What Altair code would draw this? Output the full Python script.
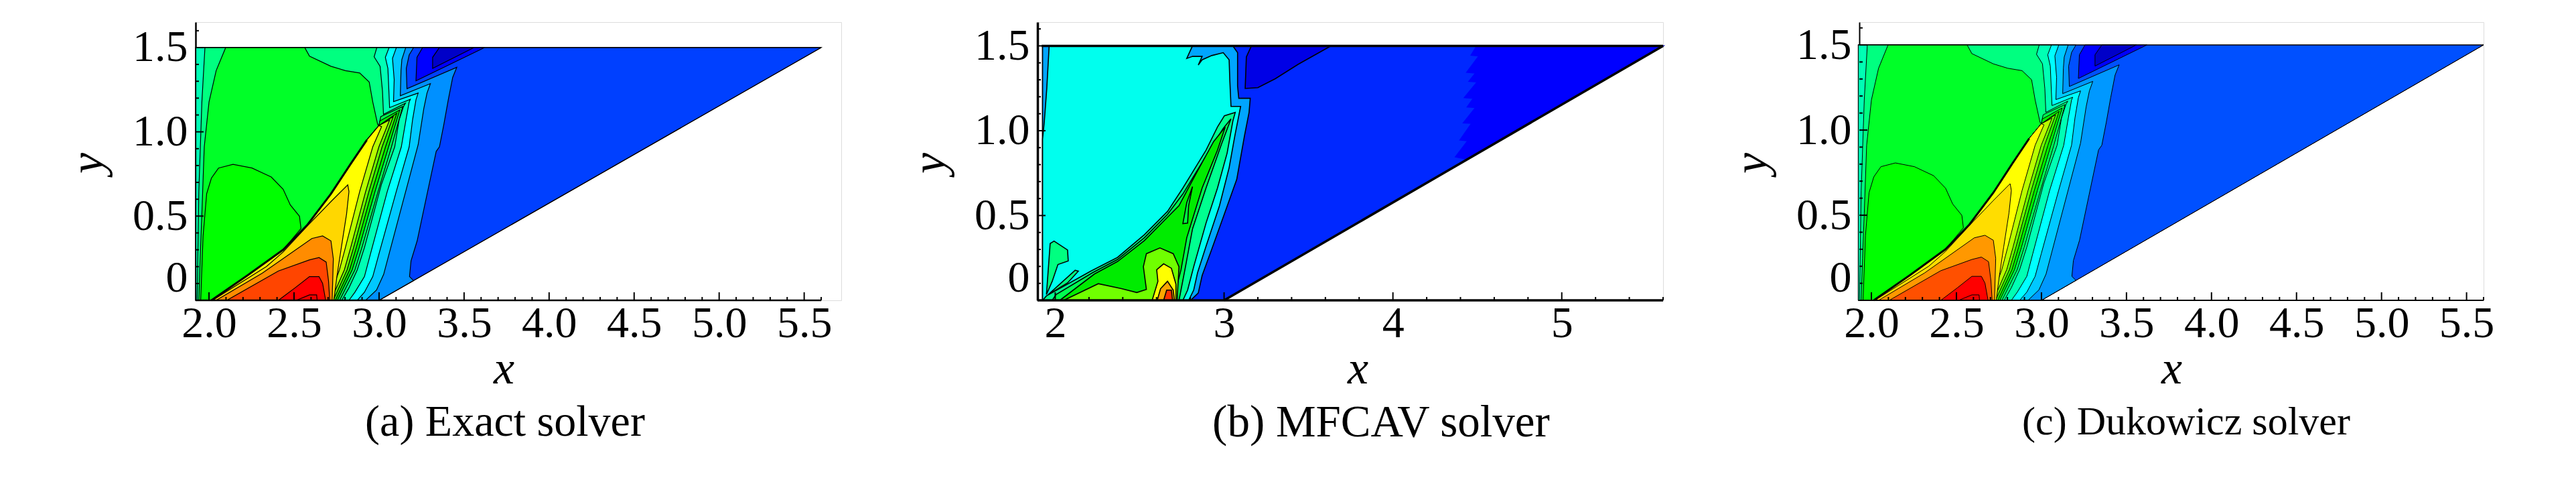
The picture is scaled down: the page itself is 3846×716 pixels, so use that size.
import altair as alt
import pandas as pd

FONT = "Liberation Serif"
L = 1.923
SHOCK_X = [2.999, 2.928, 2.830, 2.717, 2.577, 2.436, 2.225, 2.014]
SHOCK_Y = [1.037, 0.951, 0.805, 0.632, 0.446, 0.300, 0.147, 0.0]

# ---- panels (a) and (c): contour regions, outermost first
BASE_X = [L, 3.0, 5.6, L]
BASE_Y = [0, 0, 1.5, 1.5]
K1_X = [L, 3.0, 3.203, 3.179, 3.188, 3.224, 3.280, 3.336, 3.355, 3.381, 3.407, 3.433, 3.457, 3.164, 3.160, 3.177, 3.203, L]
K1_Y = [0, 0, 0.117, 0.141, 0.234, 0.353, 0.619, 0.884, 0.911, 1.044, 1.190, 1.323, 1.383, 1.256, 1.376, 1.456, 1.5, 1.5]
K2_X = [L, 2.921, 2.985, 3.027, 3.062, 3.139, 3.230, 3.263, 3.282, 3.302, 3.125, 3.129, 3.134, 3.157, L]
K2_Y = [0, 0, 0.061, 0.154, 0.287, 0.579, 0.924, 1.137, 1.230, 1.286, 1.214, 1.363, 1.429, 1.5, 1.5]
K3_X = [L, 2.872, 2.914, 2.963, 2.999, 3.101, 3.177, 3.197, 3.217, 3.230, 3.085, 3.089, 3.079, 3.102, L]
K3_Y = [0, 0, 0.048, 0.141, 0.274, 0.645, 0.911, 1.071, 1.190, 1.230, 1.179, 1.310, 1.436, 1.5, 1.5]
K4_X = [L, 2.823, 2.858, 2.914, 2.949, 3.048, 3.131, 3.158, 3.177, 3.184, 3.062, 3.052, 3.037, 3.059, L]
K4_Y = [0, 0, 0.048, 0.141, 0.274, 0.645, 0.911, 1.071, 1.177, 1.193, 1.144, 1.376, 1.442, 1.5, 1.5]
K5_X = [L, 2.781, 2.823, 2.872, 2.914, 3.013, 3.092, 3.118, 3.144, 3.155, 3.026, 3.020, 3.006, 2.971, 2.987, L]
K5_Y = [0, 0, 0.074, 0.181, 0.313, 0.685, 0.911, 1.071, 1.150, 1.170, 1.104, 1.243, 1.389, 1.445, 1.5, 1.5]
K6_X = [L, 1.930, 1.940, 1.958, 1.976, L]
K6_Y = [0, 0, 0.645, 1.177, 1.5, 1.5]
LIME_X = [2.098, 2.563, 2.591, 2.717, 2.802, 2.886, 2.942, 2.963, 2.992] + SHOCK_X + [1.940, 1.948, 1.958, 1.972, 2.0, 2.042]
LIME_Y = [1.5, 1.5, 1.449, 1.389, 1.363, 1.349, 1.296, 1.177, 1.044] + SHOCK_Y + [0, 0.247, 0.513, 0.911, 1.177, 1.363]
LOBE_X = [2.541, 2.532, 2.478, 2.436, 2.366, 2.253, 2.141, 2.056, 2.014, 1.986, 1.965, 1.951, 2.014, 2.225, 2.436]
LOBE_Y = [0.426, 0.499, 0.566, 0.659, 0.732, 0.785, 0.807, 0.785, 0.725, 0.632, 0.380, 0, 0, 0.147, 0.300]
L1_X = [2.768, 2.858, 2.899, 2.994, 3.073, 3.139, 3.010] + SHOCK_X
L1_Y = [0, 0.181, 0.313, 0.645, 0.911, 1.150, 1.090] + SHOCK_Y
L2_X = [2.755, 2.842, 2.883, 2.976, 3.056, 3.122, 3.005] + SHOCK_X
L2_Y = [0, 0.181, 0.313, 0.645, 0.911, 1.130, 1.065] + SHOCK_Y
L3_X = [2.743, 2.827, 2.866, 2.958, 3.038, 3.104] + SHOCK_X
L3_Y = [0, 0.181, 0.313, 0.645, 0.911, 1.110] + SHOCK_Y
L4_X = [2.730, 2.812, 2.850, 2.940, 3.018, 3.083] + SHOCK_X
L4_Y = [0, 0.181, 0.313, 0.645, 0.911, 1.090] + SHOCK_Y
L5_X = [2.717, 2.796, 2.833, 2.921, 2.999, 3.062] + SHOCK_X
L5_Y = [0, 0.181, 0.313, 0.645, 0.911, 1.070] + SHOCK_Y
YEL_X = [2.703, 2.767, 2.802, 2.886, 2.963, 3.015] + SHOCK_X
YEL_Y = [0, 0.181, 0.313, 0.645, 0.911, 1.031] + SHOCK_Y
GOLD_X = [2.734, 2.752, 2.778, 2.809, 2.823, 2.816, 2.717, 2.577, 2.436, 2.338, 2.021]
GOLD_Y = [0, 0.141, 0.313, 0.513, 0.645, 0.685, 0.586, 0.440, 0.287, 0.201, 0]
ORG_X = [2.724, 2.731, 2.717, 2.668, 2.605, 2.313, 2.042]
ORG_Y = [0, 0.247, 0.353, 0.382, 0.367, 0.161, 0]
ORD_X = [2.710, 2.703, 2.689, 2.647, 2.591, 2.408, 2.105]
ORD_Y = [0, 0.114, 0.227, 0.254, 0.240, 0.174, 0]
RED_X = [2.686, 2.668, 2.647, 2.591, 2.506, 2.408]
RED_Y = [0, 0.101, 0.141, 0.141, 0.074, 0]
DRD_X = [2.636, 2.633, 2.591, 2.513]
DRD_Y = [0, 0.032, 0.032, 0]
DK1_X = [3.256, 3.223, 3.217, 3.620]
DK1_Y = [1.5, 1.442, 1.303, 1.5]
DK2_X = [3.355, 3.315, 3.315, 3.558]
DK2_Y = [1.5, 1.442, 1.376, 1.5]

def exact_regions(base, lightblue, gold, orange, ored):
    return [
        (base, BASE_X, BASE_Y), (lightblue, K1_X, K1_Y), ("#00c8ff", K2_X, K2_Y),
        ("#00ffff", K3_X, K3_Y), ("#00ffb4", K4_X, K4_Y), ("#00ff80", K5_X, K5_Y),
        ("#00ffb4", K6_X, K6_Y), ("#00ff28", LIME_X, LIME_Y), ("#00ff00", LOBE_X, LOBE_Y),
        ("#00ff50", L1_X, L1_Y), ("#00f000", L2_X, L2_Y), ("#30f000", L3_X, L3_Y),
        ("#70ff00", L4_X, L4_Y), ("#b8ff00", L5_X, L5_Y), ("#ffff00", YEL_X, YEL_Y),
        (gold, GOLD_X, GOLD_Y), (orange, ORG_X, ORG_Y), (ored, ORD_X, ORD_Y),
        ("#ff0000", RED_X, RED_Y), ("#f00000", DRD_X, DRD_Y),
        ("#0000ff", DK1_X, DK1_Y), ("#0000c8", DK2_X, DK2_Y),
    ]

# ---- panel (b)
BL = 1.925
B0_X = [BL, 3.0, 5.6, BL]
B0_Y = [0, 0, 1.5, 1.5]
BJAG_X = [4.496, 4.463, 4.509, 4.437, 4.489, 4.450, 4.499, 4.423, 4.476, 4.440, 4.489, 4.417, 4.466, 4.397, 4.443, 4.370, 4.440, 5.6]
BJAG_Y = [1.5, 1.445, 1.441, 1.344, 1.340, 1.291, 1.287, 1.195, 1.191, 1.140, 1.136, 1.046, 1.043, 0.945, 0.941, 0.846, 0.831, 1.5]
BDK_X = [3.162, 3.132, 3.125, 3.200, 3.303, 3.440, 3.633]
BDK_Y = [1.5, 1.435, 1.249, 1.254, 1.306, 1.392, 1.5]
BK1_X = [BL, 2.802, 2.847, 2.870, 2.927, 3.007, 3.075, 3.121, 3.148, 3.155, 3.087, 3.080, 3.080, 3.052, BL]
BK1_Y = [0, 0, 0.043, 0.146, 0.301, 0.524, 0.713, 0.971, 1.108, 1.191, 1.191, 1.263, 1.460, 1.5, 1.5]
BCY_X = [BL, 2.790, 2.820, 2.843, 2.893, 2.973, 3.030, 3.064, 3.098, 3.041, 3.034, 3.030, 2.995, 2.927, 2.870, 2.847, 2.870, 2.813, 2.779, 2.813, 1.964, 1.950, 1.935, BL]
BCY_Y = [0, 0, 0.060, 0.163, 0.318, 0.558, 0.782, 0.971, 1.143, 1.143, 1.297, 1.418, 1.460, 1.443, 1.418, 1.387, 1.438, 1.438, 1.426, 1.5, 1.5, 1.25, 1.05, 0.95]
BS1_X = [2.756, 2.784, 2.820, 2.893, 2.961, 3.018, 3.052, 3.066, 3.002, 2.961, 2.893, 2.756, 2.665, 2.528, 2.369, 2.210, 1.948, BL]
BS1_Y = [0, 0.060, 0.198, 0.455, 0.662, 0.868, 1.057, 1.108, 1.088, 1.022, 0.885, 0.662, 0.524, 0.387, 0.253, 0.172, 0.026, 0]
BS2_X = [2.733, 2.768, 2.813, 2.893, 2.984, 3.041, 2.995, 2.893, 2.756, 2.665, 2.528, 2.369, 2.221, 2.005, 1.982]
BS2_Y = [0, 0.180, 0.421, 0.662, 0.919, 1.070, 1.014, 0.851, 0.627, 0.507, 0.369, 0.241, 0.163, 0.034, 0]
BS3_X = [2.699, 2.745, 2.779, 2.870, 2.961, 3.007, 2.938, 2.825, 2.733, 2.665, 2.528, 2.369, 2.232, 2.027]
BS3_Y = [0, 0.180, 0.369, 0.662, 0.885, 1.022, 0.936, 0.730, 0.558, 0.490, 0.352, 0.229, 0.155, 0]
BSL_X = [2.813, 2.790, 2.784, 2.756, 2.779]
BSL_Y = [0.670, 0.558, 0.455, 0.452, 0.576]
BCH_X = [2.050, 2.255, 2.392, 2.483, 2.540, 2.522, 2.540, 2.620, 2.699, 2.733, 2.722]
BCH_Y = [0, 0.098, 0.069, 0.046, 0.064, 0.198, 0.275, 0.309, 0.275, 0.198, 0]
BYE_X = [2.574, 2.608, 2.601, 2.642, 2.688, 2.715, 2.715]
BYE_Y = [0, 0.112, 0.180, 0.215, 0.189, 0.095, 0]
BOR_X = [2.604, 2.624, 2.665, 2.699, 2.706]
BOR_Y = [0, 0.069, 0.112, 0.060, 0]
BRD_X = [2.642, 2.660, 2.688, 2.695]
BRD_Y = [0, 0.060, 0.060, 0]
BLB1_X = [1.948, 1.970, 1.993, 2.073, 2.077, 2.016, 1.982]
BLB1_Y = [0.034, 0.335, 0.349, 0.297, 0.232, 0.211, 0.112]
BLB2_X = [1.959, 2.118, 2.137, 2.073]
BLB2_Y = [0.034, 0.177, 0.172, 0.103]

REGIONS_B = [
    ("#0028ff", B0_X, B0_Y), ("#0000ff", BJAG_X, BJAG_Y, "none"), ("#0000e6", BDK_X, BDK_Y),
    ("#00a5ff", BK1_X, BK1_Y), ("#00ffee", BCY_X, BCY_Y), ("#00ff90", BS1_X, BS1_Y),
    ("#00ff50", BS2_X, BS2_Y), ("#00ec00", BS3_X, BS3_Y), ("#00ff40", BSL_X, BSL_Y),
    ("#70ff00", BCH_X, BCH_Y), ("#ffff00", BYE_X, BYE_Y), ("#ffa500", BOR_X, BOR_Y),
    ("#ff3000", BRD_X, BRD_Y), ("#00ff80", BLB1_X, BLB1_Y), ("#00ff80", BLB2_X, BLB2_Y),
]

TOP_X = [1.92, 5.6]
TOP_Y = [1.5, 1.5]
WEDGE_X = [3.0, 5.6]
WEDGE_Y = [0, 1.5]

X_TICKS_FINE = [2.0, 2.5, 3.0, 3.5, 4.0, 4.5, 5.0, 5.5]
X_MINOR_FINE = [2.1, 2.2, 2.3, 2.4, 2.6, 2.7, 2.8, 2.9, 3.1, 3.2, 3.3, 3.4, 3.6, 3.7, 3.8, 3.9,
                4.1, 4.2, 4.3, 4.4, 4.6, 4.7, 4.8, 4.9, 5.1, 5.2, 5.3, 5.4, 5.6]
X_TICKS_B = [2, 3, 4, 5]
X_MINOR_B = [2.2, 2.4, 2.6, 2.8, 3.2, 3.4, 3.6, 3.8, 4.2, 4.4, 4.6, 4.8, 5.2, 5.4, 5.6]
Y_TICKS = [0, 0.5, 1.0, 1.5]
Y_MINOR = [0.1, 0.2, 0.3, 0.4, 0.6, 0.7, 0.8, 0.9, 1.1, 1.2, 1.3, 1.4, 1.6]

H = 415
TICK_FONT = 66


def panel(regions, xdom, ydom, xt, xm, xfmt, caption, cap_size, cap_off, cap_dx, xtitle_x, line_w, outline_w, axis_w, width, shock=True):
    rows = []
    for pid, reg in enumerate(regions):
        col, xs, ys = reg[:3]
        stroke = col if len(reg) > 3 else "black"
        for i, (px, py) in enumerate(zip(xs, ys)):
            rows.append(dict(pid=pid, i=i, x=px, y=py, col=col, st=stroke))
    df = pd.DataFrame(rows)
    xs_ = alt.Scale(domain=xdom, nice=False, zero=False)
    ys_ = alt.Scale(domain=ydom, nice=False, zero=False)
    x_axis = alt.Axis(values=xt, format=xfmt, ticks=False, grid=False, domain=False,
                      labelFont=FONT, labelFontSize=TICK_FONT, labelColor="black", labelPadding=2, labelFlush=False,
                      labelOverlap=False, title="x", titleFont=FONT, titleFontStyle="italic", titleFontWeight="normal",
                      titleFontSize=70, titleColor="black", titleX=xtitle_x, titleY=123, titleBaseline="alphabetic")
    y_axis = alt.Axis(values=Y_TICKS, labelExpr="datum.value==0?'0':format(datum.value,'.1f')", ticks=False, grid=False,
                      domainWidth=axis_w, domainColor="black", labelFont=FONT, labelFontSize=TICK_FONT, labelColor="black",
                      labelPadding=12, labelFlush=False, labelOverlap=False,
                      labelBaseline=alt.expr("datum.value==0?'bottom':'middle'"),
                      title="y", titleFont=FONT, titleFontStyle="italic", titleFontWeight="normal", titleFontSize=70,
                      titleColor="black", titleX=-125, titleY=210)
    xe = alt.X("x:Q", scale=xs_, axis=x_axis)
    ye = alt.Y("y:Q", scale=ys_, axis=y_axis)
    fields = alt.Chart(df).mark_line(interpolate="linear-closed", strokeWidth=line_w).encode(
        x=xe, y=ye, detail="pid:N", order="i:Q",
        fill=alt.Fill("col:N", scale=None),
        stroke=alt.Stroke("st:N", scale=None),
    )
    layers = [fields]
    edges = pd.DataFrame({"x": TOP_X + WEDGE_X, "y": TOP_Y + WEDGE_Y, "e": ["t", "t", "w", "w"]})
    layers.append(alt.Chart(edges).mark_line(color="black", strokeWidth=outline_w).encode(x=xe, y=ye, detail="e:N"))
    if shock:
        sdf = pd.DataFrame({"x": SHOCK_X[1:], "y": SHOCK_Y[1:]})
        layers.append(alt.Chart(sdf).mark_line(color="black", strokeWidth=3).encode(x=xe, y=ye))
    # x axis line, from the left end of the axis to x = 5.6
    layers.append(alt.Chart(pd.DataFrame({"a": [xdom[0]], "b": [5.6]})).mark_rule(color="black", strokeWidth=axis_w).encode(
        x=alt.X("a:Q", scale=xs_, axis=x_axis), x2="b:Q", y=alt.value(H)))
    for vals, ln in ((xt, 12), (xm, 5)):
        layers.append(alt.Chart(pd.DataFrame({"x": vals})).mark_rule(color="black", strokeWidth=2).encode(
            x=xe, y=alt.value(H), y2=alt.value(H - ln)))
    for vals, ln in ((Y_TICKS, 12), (Y_MINOR, 5)):
        layers.append(alt.Chart(pd.DataFrame({"y": vals})).mark_rule(color="black", strokeWidth=2).encode(
            y=ye, x=alt.value(0), x2=alt.value(ln)))
    return alt.layer(*layers).properties(
        width=width, height=H,
        title=alt.TitleParams(caption, orient="bottom", font=FONT, fontSize=cap_size, fontWeight="normal", color="black",
                              anchor="middle", dx=cap_dx, offset=cap_off),
    )


a = panel(exact_regions("#0040ff", "#0090ff", "#ffd700", "#ff8c00", "#ff4500"),
          [1.921, 5.718], [0, 1.651], X_TICKS_FINE, X_MINOR_FINE, ".1f",
          "(a) Exact solver", 66, 13, -20, 460, 1.2, 1.2, 2.5, 964)
b = panel(REGIONS_B, [1.895, 5.6], [0, 1.64], X_TICKS_B, X_MINOR_B, "d",
          "(b) MFCAV solver", 67, 13, 46, 478, 1.6, 3.5, 3.5, 934, shock=False)
c = panel(exact_regions("#0050ff", "#0098ff", "#ffdd00", "#ff9800", "#ff5000"),
          [1.929, 5.6], [0, 1.634], X_TICKS_FINE, X_MINOR_FINE, ".1f",
          "(c) Dukowicz solver", 60, 16, 22, 466, 1.0, 1.0, 2.0, 932)

chart = alt.hconcat(a, b, c, spacing=293, bounds="flush").properties(
    padding={"left": 87, "top": 24, "right": 5, "bottom": 5}
).configure_view(stroke=None).configure(background="white")

chart.save("out.html", embed_options={"renderer": "svg", "actions": False})
